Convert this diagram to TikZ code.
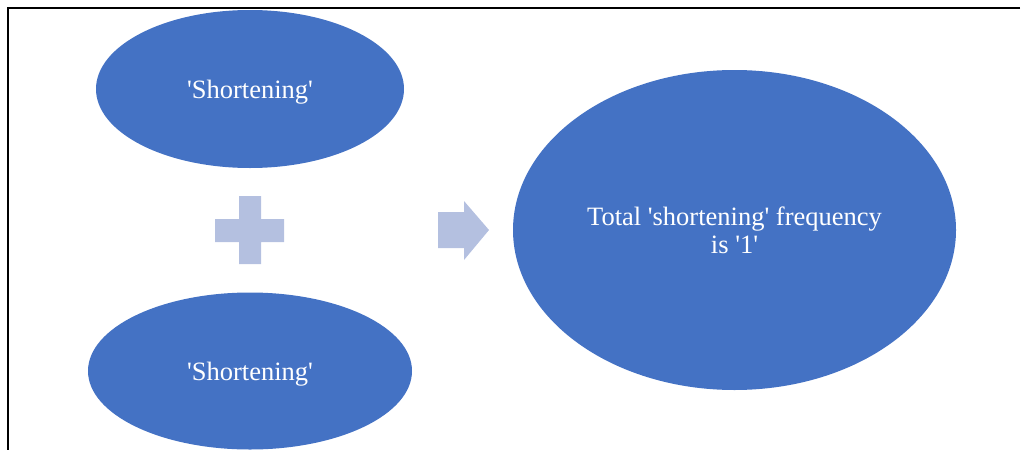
\documentclass[tikz,border=0pt]{standalone}
\usepackage{fontspec}
\setmainfont{Liberation Serif}
\usepackage{tikz}
\usetikzlibrary{shapes.geometric}

\definecolor{ovalblue}{HTML}{4472C4}
\definecolor{signblue}{HTML}{B4C0E0}
\newcommand{\sq}{\textquotesingle}

\tikzset{
  oval/.style={ellipse, fill=ovalblue, text=white, inner sep=0pt, align=center,
    font=\fontsize{26.5}{28}\selectfont},
  oneline/.style={text height=22pt, text depth=4pt},
  sign/.style={fill=signblue, draw=none}
}

\begin{document}
\begin{tikzpicture}[x=1pt, y=-1pt]
\useasboundingbox (0,0) rectangle (1024,450);
\draw[line width=1.2pt]
(1020,8) -- (8,8) -- (8,450);
\node[oval, oneline, minimum width=308pt, minimum height=158pt] (short1) at (250,89) {\sq Shortening\sq};
\node[oval, oneline, minimum width=324pt, minimum height=157pt] (short2) at (250,371) {\sq Shortening\sq};
\node[oval, minimum width=443pt, minimum height=320pt] (total) at (734.5,230)
  {Total \sq shortening\sq{} frequency\\is \sq 1\sq};
% plus sign
\fill[sign]
(239,196) -- (261,196) -- (261,219) -- (284,219) -- (284,242) -- (261,242)
-- (261,264) -- (239,264) -- (239,242) -- (215,242) -- (215,219) -- (239,219) -- cycle;
% arrow
\fill[sign]
(438,212) -- (464,212) -- (464,201) -- (489,230) -- (464,260) -- (464,248) -- (438,248) -- cycle;
\end{tikzpicture}
\end{document}
